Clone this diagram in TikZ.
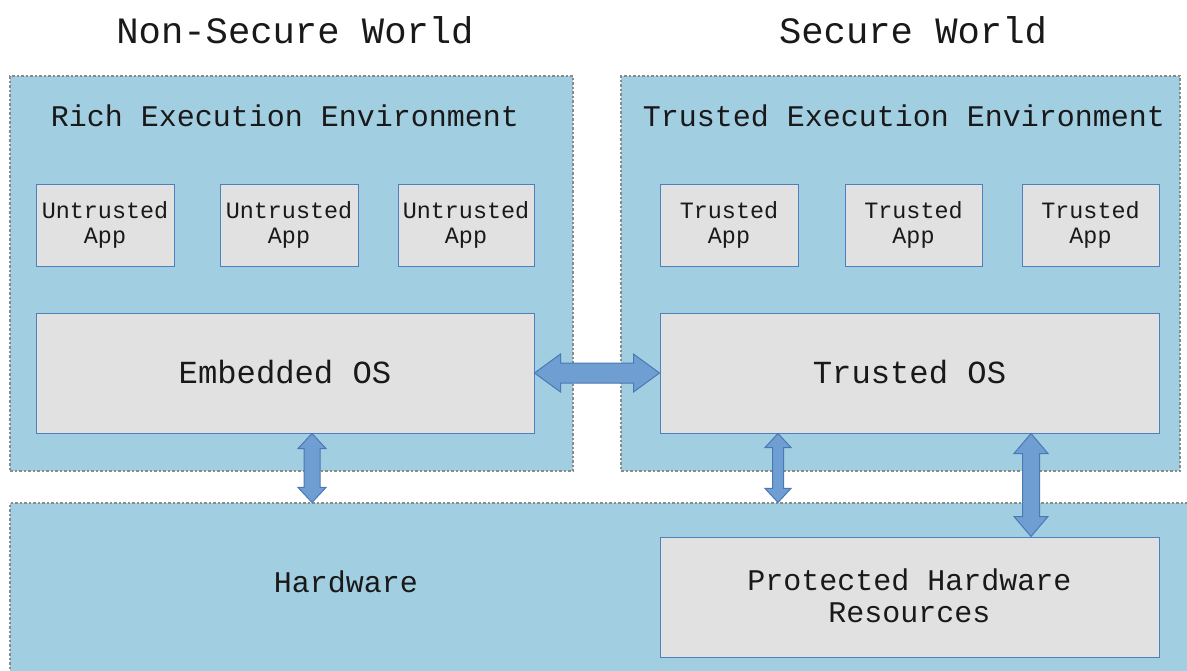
\documentclass[tikz,border=0pt]{standalone}
\usepackage{fontspec}
\newfontfamily\mono{Liberation Mono}
\usetikzlibrary{calc}
\definecolor{zone}{HTML}{A2CEE2}
\definecolor{zoneline}{HTML}{8A8A8A}
\definecolor{boxfill}{HTML}{E1E1E1}
\definecolor{boxline}{HTML}{4F7FBF}
\definecolor{arrfill}{HTML}{6F9FD2}
\definecolor{arrline}{HTML}{4A78B5}
\tikzset{
  zonebox/.style={draw=zoneline, fill=zone, line width=1.1pt, dash pattern=on 2.5pt off 2pt, inner sep=0pt},
  compbox/.style={draw=boxline, fill=boxfill, line width=1pt, inner sep=0pt, align=center, text=black!90, font=\mono\fontsize{23.4}{26}\selectfont},
  bigbox/.style={compbox, font=\mono\fontsize{32.2}{32}\selectfont},
  resbox/.style={compbox, font=\mono\fontsize{30}{32}\selectfont},
  title/.style={text=black!90, font=\mono\fontsize{37.2}{40}\selectfont},
  subtitle/.style={text=black!90, font=\mono\fontsize{30}{32}\selectfont},
  blockarrow/.style={draw=arrline, fill=arrfill, line width=1pt, line join=miter}
}
% vertical double block arrow: #1 top point, #2 bottom point, #3 shaft half width, #4 head half width, #5 head length
\newcommand\vdouble[5]{%
  \draw[blockarrow] let \p1=#1, \p2=#2 in
    (\x1,\y1) -- (\x1+#4,\y1-#5) -- (\x1+#3,\y1-#5) -- (\x1+#3,\y2+#5) -- (\x1+#4,\y2+#5)
    -- (\x1,\y2) -- (\x1-#4,\y2+#5) -- (\x1-#3,\y2+#5) -- (\x1-#3,\y1-#5) -- (\x1-#4,\y1-#5) -- cycle;}
% horizontal double block arrow: #1 left point, #2 right point, then as above
\newcommand\hdouble[5]{%
  \draw[blockarrow] let \p1=#1, \p2=#2 in
    (\x1,\y1) -- (\x1+#5,\y1-#4) -- (\x1+#5,\y1-#3) -- (\x2-#5,\y1-#3) -- (\x2-#5,\y1-#4)
    -- (\x2,\y1) -- (\x2-#5,\y1+#4) -- (\x2-#5,\y1+#3) -- (\x1+#5,\y1+#3) -- (\x1+#5,\y1+#4) -- cycle;}
\begin{document}
\begin{tikzpicture}[x=1pt,y=-1pt]
\useasboundingbox (0,0) rectangle (1187,670);
\fill[white] (0,0) rectangle (1187,670);

% worlds
\node[title] (nsw) at (295,30) {Non-Secure World};
\node[title] (sw) at (913,30) {Secure World};

% execution environments and hardware
\node[zonebox, minimum width=563pt, minimum height=395pt] (ree) at (291.5,273.5) {};
\node[zonebox, minimum width=559pt, minimum height=395pt] (tee) at (900.5,273.5) {};
\node[zonebox, minimum width=1180pt, minimum height=172pt] (hw) at (600,589) {};
\node[subtitle] (reet) at (285,116) {Rich Execution Environment};
\node[subtitle] (teet) at (904,116) {Trusted Execution Environment};
\node[subtitle] (hwt) at (346,582) {Hardware};

% applications
\node[compbox, minimum width=138pt, minimum height=82pt] (u1) at (105,225) {\raisebox{-1.5pt}{Untrusted}\\App};
\node[compbox, minimum width=138pt, minimum height=82pt] (u2) at (289,225) {\raisebox{-1.5pt}{Untrusted}\\App};
\node[compbox, minimum width=136pt, minimum height=82pt] (u3) at (466,225) {\raisebox{-1.5pt}{Untrusted}\\App};
\node[compbox, minimum width=138pt, minimum height=82pt] (t1) at (729,225) {\raisebox{-1.5pt}{Trusted}\\App};
\node[compbox, minimum width=137pt, minimum height=82pt] (t2) at (913.5,225) {\raisebox{-1.5pt}{Trusted}\\App};
\node[compbox, minimum width=137pt, minimum height=82pt] (t3) at (1090.5,225) {\raisebox{-1.5pt}{Trusted}\\App};

% operating systems and protected resources
\node[bigbox, minimum width=498pt, minimum height=120pt] (eos) at (285,373) {\raisebox{3pt}{Embedded OS}};
\node[bigbox, minimum width=499pt, minimum height=120pt] (tos) at (909.5,373) {\raisebox{3pt}{Trusted OS}};
\node[resbox, minimum width=499pt, minimum height=120pt] (phr) at (909.5,597) {\raisebox{3pt}{Protected Hardware}\\\raisebox{3pt}{Resources}};

% communication paths
\coordinate (a1t) at (eos.south -| 312,0);
\coordinate (a1b) at (hw.north -| 312,0);
\coordinate (a2t) at (tos.south -| 778,0);
\coordinate (a2b) at (hw.north -| 778,0);
\coordinate (a3t) at (tos.south -| 1031,0);
\coordinate (a3b) at (phr.north -| 1031,0);
\hdouble{(eos.east)}{(tos.west)}{10pt}{19pt}{26pt}
\vdouble{(a1t)}{(a1b)}{8pt}{14pt}{15pt}
\vdouble{(a2t)}{(a2b)}{5.5pt}{13pt}{14pt}
\vdouble{(a3t)}{(a3b)}{8.5pt}{17pt}{20pt}
\end{tikzpicture}
\end{document}
